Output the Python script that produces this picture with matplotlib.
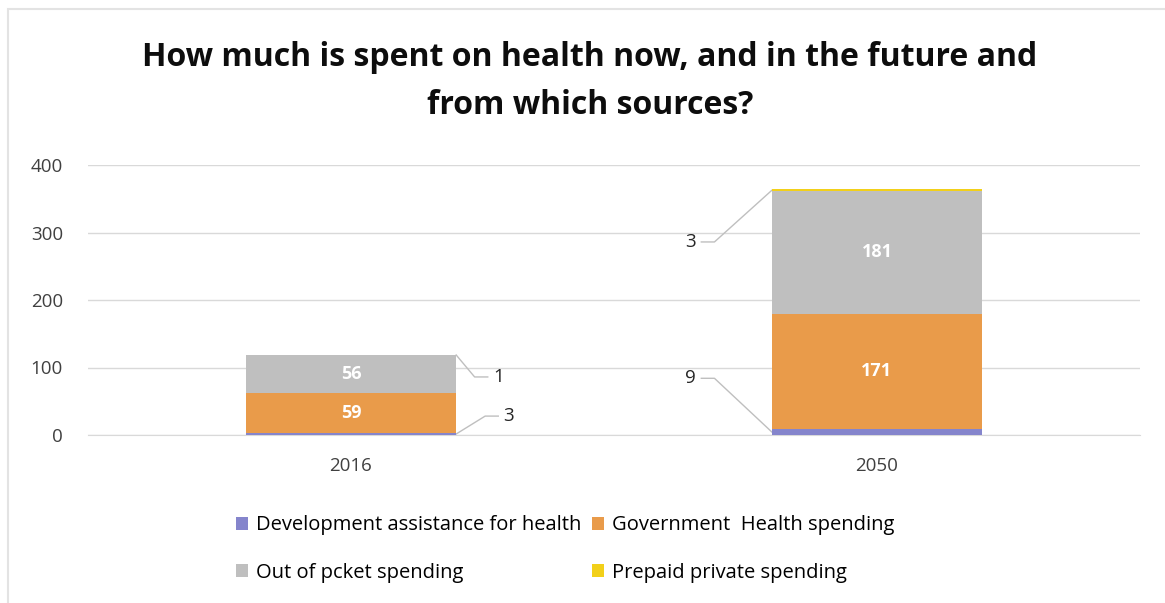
import matplotlib.pyplot as plt
from matplotlib.patches import Rectangle
import numpy as np

plt.rcParams['font.family'] = ['Open Sans', 'DejaVu Sans']

years = ['2016', '2050']
dev_assist = [3, 9]
gov_spend = [59, 171]
out_of_pocket = [56, 181]
prepaid = [1, 3]

series_names = ['Development assistance for health', 'Government  Health spending',
                'Out of pcket spending', 'Prepaid private spending']
colors = ['#8585CC', '#E99B4A', '#BFBFBF', '#F2D01A']

fig = plt.figure(figsize=(11.65, 6.03), dpi=100)
ax = fig.add_axes([88 / 1165, 1 - 435 / 603, 1052 / 1165, 270 / 603])

# light chart-area frame along the top and left edges
fig.patches.append(Rectangle((8 / 1165, -0.1), 1.2, 1 - 9 / 603 + 0.1,
                             transform=fig.transFigure, fill=False,
                             edgecolor='#E3E3E3', lw=1.5, zorder=0))

x = np.arange(len(years))
width = 0.4
bottom = np.zeros(len(years))
stacks = [dev_assist, gov_spend, out_of_pocket, prepaid]
bars = []
handles = []
for vals, name, col in zip(stacks, series_names, colors):
    b = ax.bar(x, vals, width, bottom=bottom, color=col, label=name, zorder=3)
    handles.append(b)
    bars.append((np.array(vals), bottom.copy()))
    bottom += vals

# white labels inside the big segments
for vals, base in bars[1:3]:
    for xi, v, b0 in zip(x, vals, base):
        ax.text(xi, b0 + v / 2, str(v), ha='center', va='center',
                color='white', fontsize=13, fontweight='bold', zorder=4)

# callouts with leader lines for the thin segments
def callout(xi, side, seg_idx, label_y, label_dx):
    vals, base = bars[seg_idx]
    v = vals[xi]
    y0 = base[xi] + v / 2
    x0 = xi + side * width / 2
    xe = xi + side * (label_dx - 0.045)
    xh = xi + side * (label_dx - 0.02)
    ax.plot([x0, xe, xh], [y0, label_y, label_y], color='#BFBFBF', lw=1, zorder=2,
            clip_on=False)
    ax.text(xi + side * label_dx, label_y, str(v), ha='center', va='center',
            fontsize=13.5, color='#262626')

callout(0, 1, 3, 86, 0.28)
callout(0, 1, 0, 28, 0.30)
callout(1, -1, 3, 286, 0.354)
callout(1, -1, 0, 84, 0.354)

ax.set_xlim(-0.5, 1.5)
ax.set_ylim(0, 400)
ax.set_yticks([0, 100, 200, 300, 400])
ax.set_xticks(x)
ax.set_xticklabels(years)
ax.yaxis.grid(True, color='#D9D9D9', lw=1, zorder=0)
ax.set_axisbelow(True)
for s in ax.spines.values():
    s.set_visible(False)
ax.spines['bottom'].set_visible(True)
ax.spines['bottom'].set_color('#D9D9D9')
ax.tick_params(axis='both', length=0, labelsize=13.5, colors='#404040')
ax.tick_params(axis='y', pad=18)
ax.tick_params(axis='x', pad=16)

fig.text(590 / 1165, 1 - 58 / 603, 'How much is spent on health now, and in the future and',
         ha='center', va='center', fontsize=23, fontweight='bold', color='#0D0D0D')
fig.text(590 / 1165, 1 - 105 / 603, 'from which sources?',
         ha='center', va='center', fontsize=23, fontweight='bold', color='#0D0D0D')

# legend filled column-wise, so order handles to read row by row
order = [0, 2, 1, 3]
fig.legend([handles[i] for i in order], [series_names[i] for i in order],
           loc='center', bbox_to_anchor=(565 / 1165, 1 - 549 / 603),
           ncol=2, frameon=False, fontsize=14.5, handlelength=0.6, handleheight=0.6,
           handletextpad=0.4, columnspacing=0.5, labelspacing=1.35)

fig.savefig('out.png', dpi=100)
